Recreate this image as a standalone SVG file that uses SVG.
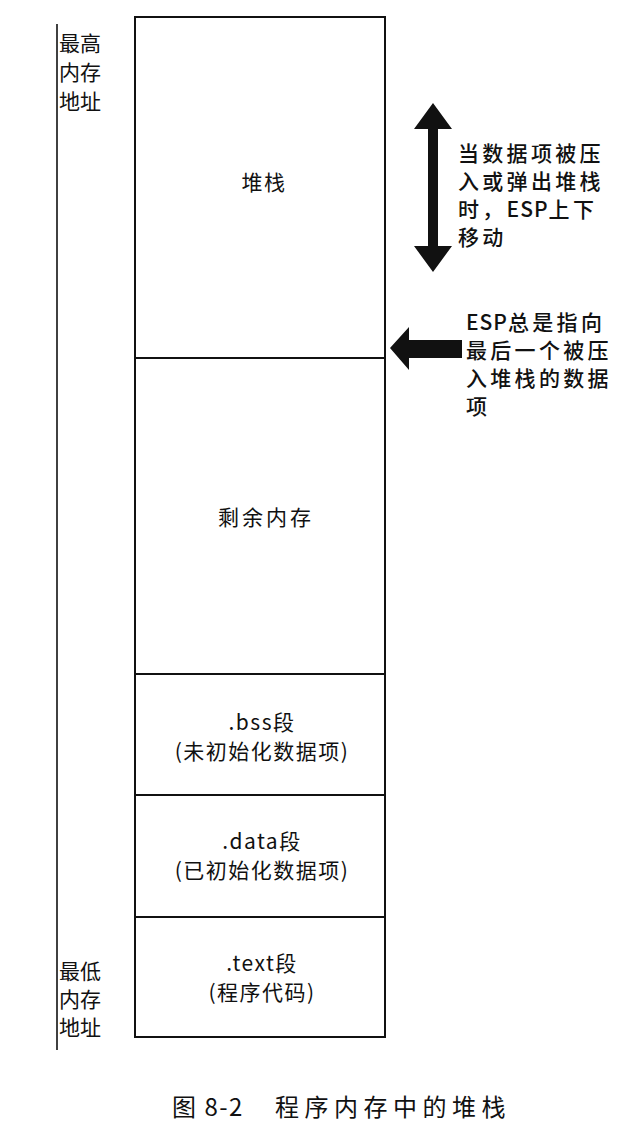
<svg xmlns="http://www.w3.org/2000/svg" width="626" height="1144" viewBox="0 0 626 1144">
<style>
.t{font-family:"Noto Sans CJK SC","Noto Sans",sans-serif;fill:#111;}
.box{fill:#fff;stroke:#111;stroke-width:2;}
.ln{stroke:#111;stroke-width:1.6;fill:none;}
.lab{font-size:21px;text-anchor:middle;letter-spacing:1.5px;}
.side{font-size:21px;}
.note{font-size:21px;letter-spacing:3.3px;font-weight:500;}
.lat{letter-spacing:1px;}
.cap{font-size:24px;}
</style>
<rect width="626" height="1144" fill="#fff"/>
<g id="axis">
<line class="ln" x1="57" y1="24" x2="57" y2="1050"/>
<text class="t side" x="59" y="51">最高</text>
<text class="t side" x="59" y="80">内存</text>
<text class="t side" x="59" y="109">地址</text>
<text class="t side" x="59" y="979">最低</text>
<text class="t side" x="59" y="1007">内存</text>
<text class="t side" x="59" y="1035">地址</text>
</g>
<g id="stack">
<rect class="box" x="135" y="17" width="250" height="341"/>
<text class="t lab" x="264" y="190">堆栈</text>
</g>
<g id="free">
<rect class="box" x="135" y="358" width="250" height="316"/>
<text class="t lab" x="266" y="525" style="letter-spacing:3px">剩余内存</text>
</g>
<g id="bss">
<rect class="box" x="135" y="674" width="250" height="121"/>
<text class="t lab" x="262" y="730">.bss段</text>
<text class="t lab" x="262" y="759">(未初始化数据项)</text>
</g>
<g id="data">
<rect class="box" x="135" y="795" width="250" height="122"/>
<text class="t lab" x="262" y="849">.data段</text>
<text class="t lab" x="262" y="878">(已初始化数据项)</text>
</g>
<g id="text">
<rect class="box" x="135" y="917" width="250" height="120"/>
<text class="t lab" x="262" y="971">.text段</text>
<text class="t lab" x="262" y="1000">(程序代码)</text>
</g>
<g id="connectors">
<polygon fill="#111" points="433,103 452,129 438,129 438,246 452,246 433,272 414,246 428,246 428,129 414,129"/>
<polygon fill="#111" points="390,348 409,327 409,340 462,340 462,358 409,358 409,370"/>
</g>
<g id="note-esp-move">
<text class="t note" x="458" y="161">当数据项被压</text>
<text class="t note" x="458" y="189">入或弹出堆栈</text>
<text class="t note" x="458" y="217">时，<tspan class="lat">ESP</tspan>上下</text>
<text class="t note" x="458" y="245">移动</text>
</g>
<g id="note-esp-top">
<text class="t note" x="466" y="330"><tspan class="lat">ESP</tspan>总是指向</text>
<text class="t note" x="466" y="358">最后一个被压</text>
<text class="t note" x="466" y="386">入堆栈的数据</text>
<text class="t note" x="466" y="414">项</text>
</g>
<text class="t cap" x="172" y="1116" style="letter-spacing:1.5px">图 8-2</text>
<text class="t cap" x="275" y="1116" style="letter-spacing:5.5px">程序内存中的堆栈</text>
</svg>
